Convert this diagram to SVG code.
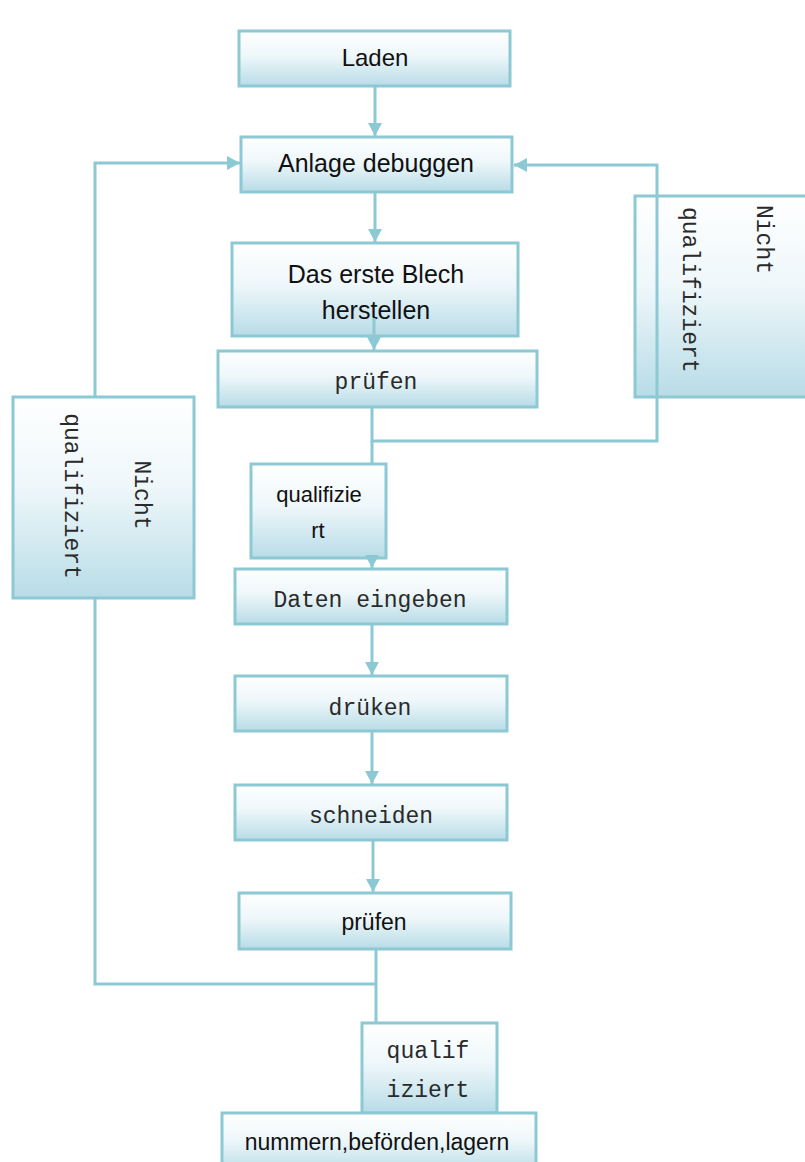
<svg xmlns="http://www.w3.org/2000/svg" width="805" height="1162" viewBox="0 0 805 1162">
<defs>
<linearGradient id="g" x1="0" y1="0" x2="0" y2="1">
<stop offset="0" stop-color="#ffffff"/>
<stop offset="0.45" stop-color="#eef7fa"/>
<stop offset="1" stop-color="#b8dce7"/>
</linearGradient>
<marker id="ah" markerUnits="userSpaceOnUse" markerWidth="14" markerHeight="14" refX="13" refY="7" orient="auto">
<path d="M0,0 L13,7 L0,14 z" fill="#8cc9d4"/>
</marker>
<style>
.box{fill:url(#g);stroke:#8cc9d4;stroke-width:3}
.sans{font-family:"Liberation Sans",Arial,sans-serif;fill:#111111;text-anchor:middle}
.mono{font-family:"Liberation Mono","Courier New",monospace;font-size:23px;fill:#2a2a2a;text-anchor:middle}
.c{fill:none;stroke:#8cc9d4;stroke-width:3}
</style>
</defs>
<rect width="805" height="1162" fill="#ffffff"/>

<g id="n-laden">
<rect class="box" x="239" y="31" width="271" height="55"/>
<text class="sans" x="375" y="66" font-size="24">Laden</text>
</g>
<g id="n-anlage">
<rect class="box" x="241" y="137" width="271" height="55"/>
<text class="sans" x="376" y="172" font-size="25">Anlage debuggen</text>
</g>
<g id="n-blech">
<rect class="box" x="232" y="243" width="286" height="93"/>
<text class="sans" x="376" y="283" font-size="25">Das erste Blech</text>
<text class="sans" x="376" y="319" font-size="25">herstellen</text>
</g>
<g id="n-pruefen1">
<rect class="box" x="218" y="351" width="319" height="56"/>
<text class="mono" x="376" y="389">prüfen</text>
</g>
<g id="n-nicht-right">
<rect class="box" x="635" y="196" width="180" height="201"/>
<text class="mono" style="text-anchor:start" transform="translate(757,205) rotate(90)">Nicht</text>
<text class="mono" style="text-anchor:start" transform="translate(683,207) rotate(90)">qualifiziert</text>
</g>
<g id="n-nicht-left">
<rect class="box" x="13" y="397" width="181" height="201"/>
<text class="mono" transform="translate(135,495) rotate(90)">Nicht</text>
<text class="mono" transform="translate(65,496) rotate(90)">qualifiziert</text>
</g>
<g id="n-qual1">
<rect class="box" x="251" y="464" width="135" height="94"/>
<text class="sans" x="319" y="502" font-size="22">qualifizie</text>
<text class="sans" x="318" y="538" font-size="22">rt</text>
</g>
<g id="n-daten">
<rect class="box" x="235" y="569" width="272" height="55"/>
<text class="mono" x="370" y="607">Daten eingeben</text>
</g>
<g id="n-drueken">
<rect class="box" x="235" y="676" width="272" height="55"/>
<text class="mono" x="370" y="715">drüken</text>
</g>
<g id="n-schneiden">
<rect class="box" x="235" y="785" width="272" height="55"/>
<text class="mono" x="371" y="823">schneiden</text>
</g>
<g id="n-pruefen2">
<rect class="box" x="239" y="893" width="272" height="56"/>
<text class="sans" x="374" y="930" font-size="23">prüfen</text>
</g>
<g id="n-qual2">
<rect class="box" x="362" y="1023" width="135" height="90"/>
<text class="mono" x="428" y="1058">qualif</text>
<text class="mono" x="428" y="1097">iziert</text>
</g>
<g id="n-nummern">
<rect class="box" x="222" y="1113" width="314" height="60"/>
<text class="sans" x="377" y="1150" font-size="23">nummern,beförden,lagern</text>
</g>

<g id="connectors">
<line class="c" x1="375" y1="86" x2="375" y2="136" marker-end="url(#ah)"/>
<line class="c" x1="375" y1="192" x2="375" y2="242" marker-end="url(#ah)"/>
<line class="c" x1="374" y1="318" x2="374" y2="350" marker-end="url(#ah)"/>
<polyline class="c" points="372,407 372,441 657,441 657,165 514,165" marker-end="url(#ah)"/>
<line class="c" x1="372" y1="441" x2="372" y2="464"/>
<line class="c" x1="372" y1="556" x2="372" y2="568" marker-end="url(#ah)"/>
<line class="c" x1="372" y1="624" x2="372" y2="675" marker-end="url(#ah)"/>
<line class="c" x1="372" y1="731" x2="372" y2="784" marker-end="url(#ah)"/>
<line class="c" x1="373" y1="840" x2="373" y2="892" marker-end="url(#ah)"/>
<line class="c" x1="376" y1="949" x2="376" y2="1023"/>
<polyline class="c" points="376,984 95,984 95,598"/>
<polyline class="c" points="95,397 95,163 240,163" marker-end="url(#ah)"/>
</g>
</svg>
